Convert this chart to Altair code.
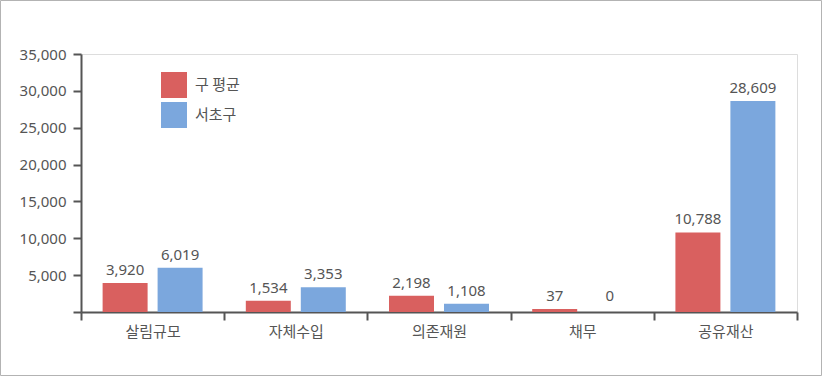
import altair as alt
import pandas as pd

categories = ["살림규모", "자체수입", "의존재원", "채무", "공유재산"]
series_names = ["구 평균", "서초구"]
gu_avg = [3920, 1534, 2198, 37, 10788]
seocho = [6019, 3353, 1108, 0, 28609]
y_ticks = [0, 5000, 10000, 15000, 20000, 25000, 30000, 35000]

rows = []
for c, a, s in zip(categories, gu_avg, seocho):
    rows.append({"category": c, "series": series_names[0], "value": a})
    rows.append({"category": c, "series": series_names[1], "value": s})
df = pd.DataFrame(rows)

FONT = "Noto Sans CJK KR"
NUMFONT = "Noto Sans"
TXT = "#555555"

x_enc = alt.X(
    "category:N",
    sort=categories,
    scale=alt.Scale(paddingInner=0, paddingOuter=0),
    axis=alt.Axis(
        title=None, labelAngle=0, tickBand="extent", domainColor="#555555",
        domainWidth=2, tickColor="#555555", tickWidth=2, tickSize=8,
        labelFontSize=15, labelColor=TXT, labelPadding=4, labelFont=FONT,
    ),
)


def y_enc(field):
    return alt.Y(
        field,
        scale=alt.Scale(domain=[0, 35000], nice=False),
        axis=alt.Axis(
            title=None, values=y_ticks, grid=False,
            labelExpr="datum.value == 0 ? '' : format(datum.value, ',')",
            domainColor="#555555", domainWidth=2, tickColor="#555555", tickWidth=2,
            tickSize=8, labelFontSize=15, labelColor=TXT, labelPadding=7,
            labelFont=NUMFONT,
        ),
    )


xoff = alt.XOffset(
    "series:N", sort=series_names,
    scale=alt.Scale(paddingInner=0.1818, paddingOuter=0.393),
)
color = alt.Color(
    "series:N", sort=series_names,
    scale=alt.Scale(domain=series_names, range=["#d9605f", "#7ba7dd"]),
    legend=alt.Legend(
        title=None, orient="none", legendX=80, legendY=18, symbolType="square",
        symbolSize=676, symbolStrokeWidth=0, labelFontSize=15, labelColor=TXT,
        labelFont=FONT, labelOffset=8, rowPadding=4, padding=0, symbolOpacity=1,
    ),
)

base = alt.Chart(df).transform_calculate(
    bar_v="datum.value > 0 ? max(datum.value, 400) : 0",
    lab_v="max(datum.value, 400)",
)

bars = base.mark_bar(opacity=1).encode(
    x=x_enc, y=y_enc("bar_v:Q"), xOffset=xoff, color=color
)
labels = base.mark_text(
    baseline="bottom", dy=-5, fontSize=15, color=TXT, font=NUMFONT
).encode(x=x_enc, y=y_enc("lab_v:Q"), xOffset=xoff, text=alt.Text("value:Q", format=","))

border = alt.Chart(alt.Data(values=[{"k": 1}])).mark_rect(
    fill=None, stroke="#b3b3b3", strokeWidth=1
).encode(
    x=alt.value(-80.5), x2=alt.value(740.5), y=alt.value(-53.5), y2=alt.value(321.5)
)

chart = alt.layer(border, bars, labels).properties(
    width=716, height=258,
    autosize=alt.AutoSizeParams(type="none"),
    padding={"left": 81, "top": 54, "right": 25, "bottom": 64},
).configure_view(stroke=None).configure(background="white", font=FONT)

chart.save("out.html", embed_options={"renderer": "svg", "actions": False})
